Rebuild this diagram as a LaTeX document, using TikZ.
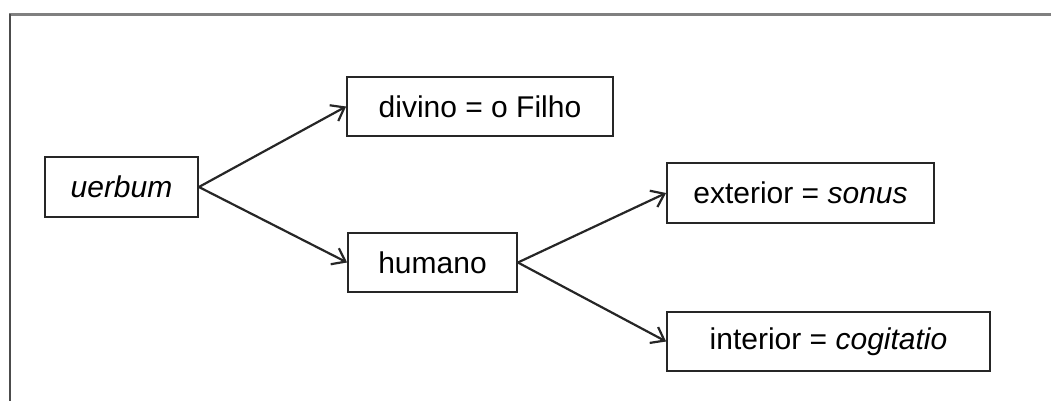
\documentclass[tikz,border=0pt]{standalone}
\usepackage{fontspec}
\setmainfont{Liberation Sans}
\usetikzlibrary{arrows.meta}
\begin{document}
\begin{tikzpicture}[x=1pt,y=-1pt,
  box/.style={draw=black!85,line width=1.8pt,inner sep=0pt,font=\fontsize{30}{35}\selectfont},
  conn/.style={draw=black!85,line width=2.2pt,-{Straight Barb[length=12pt,width=18pt,line width=2.2pt]}}]
\useasboundingbox (0,0) rectangle (1051,401);
\draw[black!50,line width=3pt] (9,15) -- (1051,15);
\draw[black!70,line width=2.5pt] (10,14) -- (10,401);
\node[box,minimum width=153pt,minimum height=60pt] (uerbum) at (121.5,187) {\itshape uerbum};
\node[box,minimum width=266pt,minimum height=59pt] (divino) at (480,106.5) {divino = o Filho};
\node[box,minimum width=169pt,minimum height=59pt] (humano) at (432.5,262.5) {humano};
\node[box,minimum width=267pt,minimum height=60pt] (exterior) at (800.5,193) {exterior = \textit{sonus}};
\node[box,minimum width=323pt,minimum height=59pt] (interior) at (828.5,341.5) {interior = \textit{cogitatio}};
\draw[conn] (uerbum.east) -- (divino.west);
\draw[conn] (uerbum.east) -- (humano.west);
\draw[conn] (humano.east) -- (exterior.west);
\draw[conn] (humano.east) -- (interior.west);
\end{tikzpicture}
\end{document}
